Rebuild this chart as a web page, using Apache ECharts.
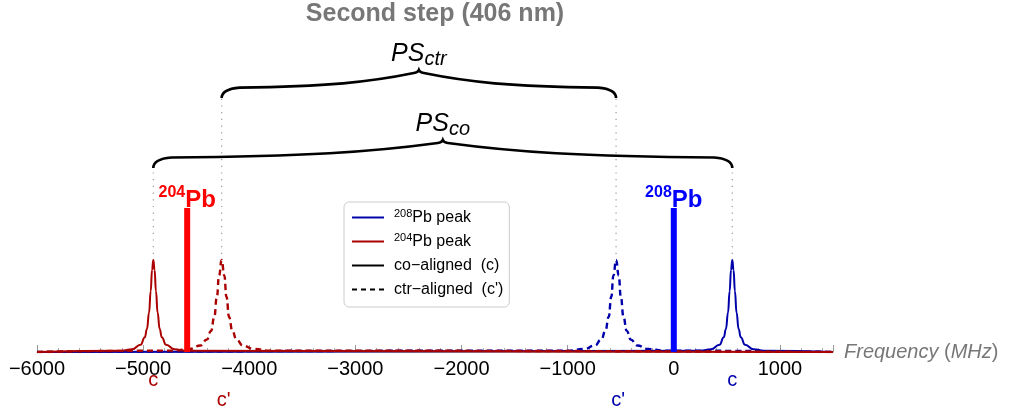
<!DOCTYPE html>
<html><head><meta charset="utf-8">
<script src="https://cdn.jsdelivr.net/npm/echarts@6/dist/echarts.min.js"></script>
<style>html,body{margin:0;padding:0;background:#fff}#c{width:1011px;height:412px}</style>
</head><body><div id="c"></div>
<script>
// ---- data ----
const axisMin = -6000, axisMax = 1500;
// peak order: 208Pb c, 208Pb c', 204Pb c, 204Pb c'
const peakCenters = [551, -544, -4904, -4260];
const peakHeights = [1, 1, 1, 1];
const peakLabels = ['c', "c'", 'c', "c'"];
// sampled line profiles (relative height vs offset in MHz)
const narrowOffsets = [-300, -200, -120, -80, -60, -40, -25, -12, 0, 12, 25, 40, 60, 80, 120, 200, 300];
const narrowShape   = [0.013, 0.03, 0.078, 0.16, 0.25, 0.43, 0.66, 0.89, 1, 0.89, 0.66, 0.43, 0.25, 0.16, 0.078, 0.03, 0.013];
const wideOffsets   = [-450, -300, -200, -140, -100, -70, -45, -25, 0, 25, 45, 70, 100, 140, 200, 300, 450];
const wideShape     = [0.015, 0.033, 0.07, 0.134, 0.23, 0.38, 0.6, 0.83, 1, 0.83, 0.6, 0.38, 0.23, 0.134, 0.07, 0.033, 0.015];
const tailValue = 0;
// isotope centroid bars
const isotopes = ['204', '208'];
const barCenters = [-4585, 0];
const barHeights = [1.565, 1.565];
// braces: from peak index to peak index, at level
const braceNames = ['co', 'ctr'];
const braceFrom = [2, 3];
const braceTo = [0, 1];
const braceLevels = [2.0, 2.76];
// legend entries
const legendNames = ['208Pb peak', '204Pb peak', 'co\u2212aligned  (c)', "ctr\u2212aligned  (c')"];

// ---- styles ----
const BLUE = '#0000aa', RED = '#aa0000';
const peakColor = [BLUE, BLUE, RED, RED];
const barColors = ['#ff0000', '#0000ff'];
const FONT = '"Liberation Sans", Arial, sans-serif';

function curve(center, offsets, shape, h) {
  const pts = [[axisMin, tailValue]];
  offsets.forEach((o, i) => pts.push([center + o, shape[i] * h]));
  pts.push([axisMax, tailValue]);
  return pts;
}

function lineSeries(name, idx, offsets, shape, color, dashed) {
  return {
    type: 'line', name: name, silent: true,
    data: curve(peakCenters[idx], offsets, shape, peakHeights[idx]),
    symbol: 'none', smooth: 0.5, smoothMonotone: 'x',
    color: color,
    lineStyle: { color: color, width: dashed ? 2.4 : 2, type: dashed ? [6, 4] : 'solid' },
    z: 3
  };
}

function renderBrace(params, api) {
  const i = params.dataIndex;
  const xa = api.value(0), xb = api.value(1), lev = api.value(2), top = api.value(3);
  const pa = api.coord([xa, lev]), pb = api.coord([xb, lev]);
  const qa = api.coord([xa, top]), qb = api.coord([xb, top]);
  const L = pa[0], R = pb[0], Y = pa[1], M = (L + R) / 2;
  const Ax = L + 18, Bx = M - 5, span = Bx - Ax;
  const Ax2 = R - 18, Bx2 = M + 5;
  const d = [
    `M${L},${Y}`,
    `C${L},${Y - 6} ${L + 6},${Y - 9.5} ${Ax},${Y - 10.5}`,
    `C${Ax + 0.5 * span},${Y - 11.5} ${Bx - 0.25 * span},${Y - 16} ${Bx},${Y - 25}`,
    `Q${M - 1},${Y - 25.5} ${M},${Y - 28}`,
    `Q${M + 1},${Y - 25.5} ${Bx2},${Y - 25}`,
    `C${Bx2 + 0.25 * span},${Y - 16} ${Ax2 - 0.5 * span},${Y - 11.5} ${Ax2},${Y - 10.5}`,
    `C${R - 6},${Y - 9.5} ${R},${Y - 6} ${R},${Y}`
  ].join(' ');
  const dotStyle = { stroke: '#999', lineWidth: 1.2, lineDash: [1.2, 5.5] };
  return {
    type: 'group',
    children: [
      { type: 'line', shape: { x1: qa[0], y1: qa[1] - 6, x2: L, y2: Y }, style: dotStyle, z2: 1 },
      { type: 'line', shape: { x1: qb[0], y1: qb[1] - 6, x2: R, y2: Y }, style: dotStyle, z2: 1 },
      { type: 'path', shape: { pathData: d }, style: { stroke: '#000', lineWidth: 2.6, fill: null }, z2: 5 },
      { type: 'text', x: M, y: Y - 29, z2: 6,
        style: {
          text: '{a|PS}{b|' + braceNames[i] + '}',
          align: 'center', verticalAlign: 'bottom', fill: '#000',
          rich: {
            a: { fontSize: 25, fontStyle: 'italic', fontFamily: FONT, lineHeight: 30, fill: '#000' },
            b: { fontSize: 20, fontStyle: 'italic', fontFamily: FONT, verticalAlign: 'bottom', lineHeight: 20, fill: '#000' }
          }
        } }
    ]
  };
}

function renderPeakLabel(params, api) {
  const i = params.dataIndex;
  const p = api.coord([api.value(0), 0]);
  const lbl = peakLabels[i];
  return {
    type: 'text', x: p[0] + (lbl === 'c' ? 0 : 2), y: p[1] + (lbl === 'c' ? 28 : 48),
    style: { text: lbl, fill: peakColor[i], font: '20px ' + FONT, align: 'center', verticalAlign: 'middle' }
  };
}

const series = [
  lineSeries('208 c', 0, narrowOffsets, narrowShape, BLUE, false),
  lineSeries("208 c'", 1, wideOffsets, wideShape, BLUE, true),
  lineSeries('204 c', 2, narrowOffsets, narrowShape, RED, false),
  lineSeries("204 c'", 3, wideOffsets, wideShape, RED, true),
  {
    type: 'bar', name: 'centroids', silent: true, barWidth: 6, z: 4,
    data: barCenters.map((x, i) => ({
      value: [x, barHeights[i]],
      itemStyle: { color: barColors[i] },
      label: { color: barColors[i] }
    })),
    label: {
      show: true, position: 'top', distance: 0, offset: [0, 8],
      formatter: p => '{s|' + isotopes[p.dataIndex] + '}{p|Pb}',
      rich: {
        s: { fontSize: 16, fontWeight: 'bold', fontFamily: FONT, verticalAlign: 'top' },
        p: { fontSize: 24, fontWeight: 'bold', fontFamily: FONT, lineHeight: 31 }
      }
    }
  },
  {
    type: 'custom', name: 'braces', silent: true, z: 5,
    renderItem: renderBrace,
    encode: { x: [0, 1], y: 2 },
    data: braceFrom.map((f, i) => [peakCenters[f], peakCenters[braceTo[i]], braceLevels[i], peakHeights[f]])
  },
  {
    type: 'custom', name: 'peakLabels', silent: true, z: 5, clip: false,
    renderItem: renderPeakLabel,
    encode: { x: 0, y: 1 },
    data: peakCenters.map(c => [c, 0])
  },
  // legend entries
  { type: 'line', name: legendNames[0], data: [], symbol: 'none', color: BLUE, lineStyle: { color: BLUE, width: 2 } },
  { type: 'line', name: legendNames[1], data: [], symbol: 'none', color: RED, lineStyle: { color: RED, width: 2 } },
  { type: 'line', name: legendNames[2], data: [], symbol: 'none', color: '#000', lineStyle: { color: '#000', width: 2.5 } },
  { type: 'line', name: legendNames[3], data: [], symbol: 'none', color: '#000', lineStyle: { color: '#000', width: 2.5, type: [5, 4] } }
];

const chart = echarts.init(document.getElementById('c'), null, { renderer: 'canvas' });
chart.setOption({
  animation: false,
  textStyle: { fontFamily: FONT },
  title: {
    text: 'Second step (406 nm)', left: 430, top: -3, textAlign: 'center',
    textStyle: { fontSize: 25, fontWeight: 'bold', color: '#777', fontFamily: FONT }
  },
  grid: { left: 37, right: 178, top: 30, bottom: 60 },
  legend: {
    data: legendNames,
    orient: 'vertical', left: 344, top: 202,
    itemWidth: 32, itemHeight: 14, itemGap: 5,
    padding: [6, 6, 8, 7],
    itemStyle: { opacity: 0 },
    backgroundColor: '#fff', borderColor: '#ccc', borderWidth: 1, borderRadius: 5,
    selectedMode: false, z: 20,
    formatter: name => name.replace(/^(\d+)Pb/, '{sup|$1}Pb'),
    textStyle: {
      fontSize: 16, color: '#000', fontFamily: FONT, lineHeight: 19, padding: [0, 0, 0, 5],
      rich: { sup: { fontSize: 11, verticalAlign: 'top', fontFamily: FONT, color: '#000' } }
    }
  },
  xAxis: {
    type: 'value', min: axisMin, max: axisMax, interval: 1000,
    axisLine: { show: true, onZero: false, lineStyle: { color: '#aaa', width: 1 } },
    axisTick: { show: true, inside: true, length: 7, lineStyle: { color: '#999' } },
    minorTick: { show: true, splitNumber: 5, length: 4, lineStyle: { color: '#aaa' } },
    splitLine: { show: false },
    axisLabel: {
      fontSize: 20, color: '#000', margin: 7, showMaxLabel: false, fontFamily: FONT,
      formatter: v => (v < 0 ? '\u2212' + Math.abs(v) : String(v))
    },
    name: '{i|Frequency} ({i|MHz})', nameLocation: 'end', nameGap: 11,
    nameTextStyle: {
      fontSize: 20, color: '#777', verticalAlign: 'middle', fontFamily: FONT,
      rich: { i: { fontSize: 20, fontStyle: 'italic', color: '#777', fontFamily: FONT } }
    }
  },
  yAxis: { type: 'value', min: 0, max: 3.5, show: false, splitLine: { show: false } },
  series: series
});
</script>
</body></html>
